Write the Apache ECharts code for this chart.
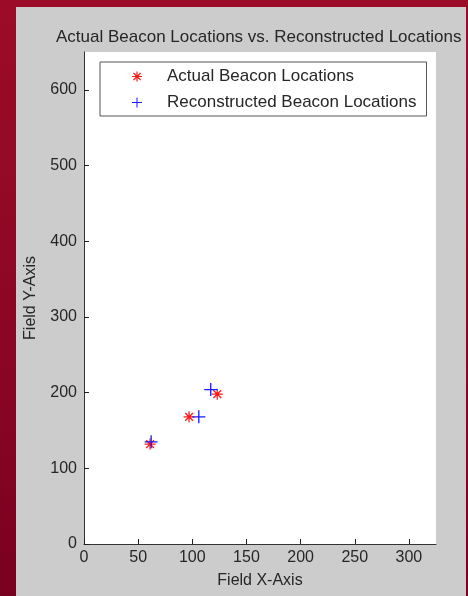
<!DOCTYPE html>
<html>
<head>
<meta charset="utf-8">
<script src="https://cdn.jsdelivr.net/npm/echarts@6/dist/echarts.min.js"></script>
<style>
  html, body { margin: 0; padding: 0; width: 468px; height: 596px; overflow: hidden; }
  body { background: linear-gradient(180deg, #9c0c28 0%, #8a0624 60%, #7a0020 100%); position: relative; }
  #panel { position: absolute; left: 16px; top: 7px; width: 450px; height: 589px; background: #cccccc; }
  #plotbg { position: absolute; left: 84px; top: 52px; width: 352px; height: 492px; background: #ffffff; }
  #main { position: absolute; left: 0; top: 0; width: 468px; height: 596px; }
</style>
</head>
<body>
<div id="panel"></div>
<div id="plotbg"></div>
<div id="main"></div>
<script>
var dom = document.getElementById("main");
var chart = echarts.init(dom);

var titleText = 'Actual Beacon Locations vs. Reconstructed Locations';
var seriesNames = ['Actual Beacon Locations', 'Reconstructed Beacon Locations'];
var actualX = [61, 97, 123];
var actualY = [132, 168, 198];
var reconX = [62, 106, 117];
var reconY = [135, 168, 204];
var xTicks = [0, 50, 100, 150, 200, 250, 300];
var yTicks = [0, 100, 200, 300, 400, 500, 600];

var textColor = '#262626';
var fontFam = '"Liberation Sans", Arial, sans-serif';

// plus and asterisk markers like matlab's '+' and '*'
var plusPath = 'path://M-0.6,-6H0.6V-0.6H6V0.6H0.6V6H-0.6V0.6H-6V-0.6H-0.6Z';
var starPath = 'path://M-0.7,-6H0.7V6H-0.7Z M-6,-0.7H6V0.7H-6Z ' +
  'M-4.74,-3.74L-3.74,-4.74L4.74,3.74L3.74,4.74Z ' +
  'M-4.74,3.74L3.74,-4.74L4.74,-3.74L-3.74,4.74Z';

function pairs(xs, ys) {
  var out = [];
  for (var i = 0; i < xs.length; i++) out.push([xs[i], ys[i]]);
  return out;
}

var option = {
  animation: false,
  backgroundColor: 'transparent',
  textStyle: { fontFamily: fontFam },
  title: {
    text: titleText,
    left: 51,
    top: 24,
    textStyle: { fontSize: 17, fontWeight: 'normal', color: textColor, fontFamily: fontFam }
  },
  legend: {
    orient: 'vertical',
    left: 100,
    top: 62,
    padding: [6, 10, 5, 32],
    itemWidth: 10,
    itemHeight: 11,
    itemGap: 9,
    backgroundColor: '#ffffff',
    borderColor: '#555555',
    borderWidth: 1,
    borderRadius: 0,
    textStyle: { fontSize: 17, color: textColor, lineHeight: 17, fontFamily: fontFam, padding: [0, 0, 0, 20] },
    data: seriesNames
  },
  grid: {
    left: 84,
    top: 52,
    right: 32,
    bottom: 52,
    show: false
  },
  xAxis: {
    type: 'value',
    min: 0,
    max: 325,
    interval: 50,
    name: 'Field X-Axis',
    nameLocation: 'middle',
    nameGap: 29,
    nameTextStyle: { fontSize: 16, color: textColor, verticalAlign: 'top' },
    axisLine: { show: true, onZero: false, lineStyle: { color: '#333333', width: 1 } },
    axisTick: { show: true, inside: true, length: 5, customValues: xTicks, lineStyle: { color: '#222222', width: 1 } },
    axisLabel: { fontSize: 16, color: textColor, margin: 6, customValues: xTicks },
    splitLine: { show: false }
  },
  yAxis: {
    type: 'value',
    min: 0,
    max: 650,
    interval: 100,
    name: 'Field Y-Axis',
    nameLocation: 'middle',
    nameGap: 45,
    nameTextStyle: { fontSize: 16, color: textColor },
    axisLine: { show: true, onZero: false, lineStyle: { color: '#333333', width: 1 } },
    axisTick: { show: true, inside: true, length: 5, customValues: yTicks, lineStyle: { color: '#222222', width: 1 } },
    axisLabel: { fontSize: 16, color: textColor, margin: 7, customValues: yTicks },
    splitLine: { show: false }
  },
  series: [
    {
      name: seriesNames[0],
      type: 'scatter',
      symbol: starPath,
      symbolSize: 11,
      symbolKeepAspect: true,
      itemStyle: { color: '#ff1a1a', opacity: 1 },
      data: pairs(actualX, actualY),
      z: 2
    },
    {
      name: seriesNames[1],
      type: 'scatter',
      symbol: plusPath,
      symbolSize: 13,
      symbolKeepAspect: true,
      itemStyle: { color: '#1a1aff', opacity: 1 },
      data: pairs(reconX, reconY),
      z: 3
    }
  ]
};

chart.setOption(option);
</script>
</body>
</html>
